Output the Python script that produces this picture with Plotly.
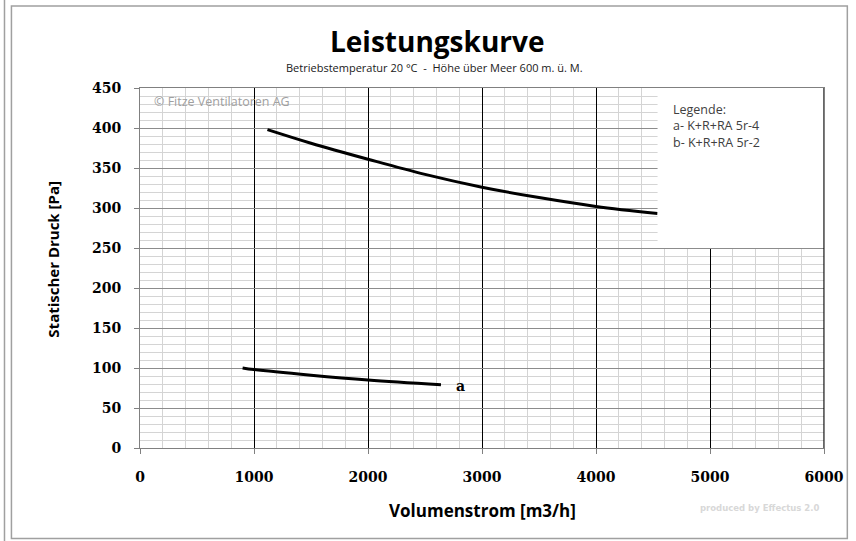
import plotly.graph_objects as go

# Data
curve_b_x = [1118, 1500, 2000, 2500, 3000, 3500, 4000, 4540]
curve_b_y = [398, 381, 361, 342, 326, 313, 302, 293]
curve_a_x = [900, 1000, 1500, 2000, 2640]
curve_a_y = [100, 98, 91, 85, 79]
x_ticks = [0, 1000, 2000, 3000, 4000, 5000, 6000]
y_ticks = [0, 50, 100, 150, 200, 250, 300, 350, 400, 450]

W, H = 856, 541
L, R, T, B = 140, 27, 88, 93
PW, PH = W - L - R, H - T - B

def px(x):
    return (x - L) / PW

def py(y):
    return (H - B - y) / PH

fig = go.Figure()
fig.add_trace(go.Scatter(x=curve_b_x, y=curve_b_y, mode="lines",
                         line=dict(color="black", width=3, shape="spline"),
                         showlegend=False, hoverinfo="skip"))
fig.add_trace(go.Scatter(x=curve_a_x, y=curve_a_y, mode="lines",
                         line=dict(color="black", width=3, shape="spline"),
                         showlegend=False, hoverinfo="skip"))

tickfont = dict(family="DejaVu Serif", size=14, color="black", weight="bold")

fig.update_layout(
    width=W, height=H,
    margin=dict(l=L, r=R, t=T, b=B),
    paper_bgcolor="white", plot_bgcolor="white",
    xaxis=dict(range=[0, 6000], tickvals=x_ticks, ticks="outside", ticklen=5,
               tickcolor="#808080", showline=True, linecolor="#808080", mirror=True,
               showgrid=True, gridcolor="black", gridwidth=1,
               minor=dict(dtick=200, showgrid=True, gridcolor="#d4d4d4", gridwidth=1),
               tickfont=tickfont, ticklabelstandoff=11, zeroline=False, fixedrange=True),
    yaxis=dict(range=[0, 450], tickvals=y_ticks, ticks="outside", ticklen=5,
               tickcolor="#808080", showline=True, linecolor="#808080", mirror=True,
               showgrid=True, gridcolor="#8c8c8c", gridwidth=1,
               minor=dict(dtick=10, showgrid=True, gridcolor="#d4d4d4", gridwidth=1),
               tickfont=tickfont, ticklabelstandoff=10, zeroline=False, fixedrange=True),
)

shapes = [
    dict(type="rect", xref="x", yref="y", x0=4540, x1=6000, y0=250, y1=450,
         fillcolor="white", line=dict(width=0), layer="above"),
    dict(type="line", xref="x", yref="y", x0=6000, x1=6000, y0=0, y1=450,
         line=dict(color="black", width=1.2), layer="above"),
    dict(type="line", xref="paper", yref="paper", x0=px(3.5), x1=px(3.5), y0=py(0), y1=py(H),
         line=dict(color="#a0a0a0", width=1.5)),
    dict(type="rect", xref="paper", yref="paper", x0=px(10.5), x1=px(852.5), y0=py(6), y1=py(538.5),
         line=dict(color="#a0a0a0", width=1.5), fillcolor="rgba(0,0,0,0)"),
]
fig.update_layout(shapes=shapes)

ann = []
ann.append(dict(text="<b>Leistungskurve</b>", x=px(439), y=py(41), xref="paper", yref="paper",
                showarrow=False, font=dict(family="Open Sans", size=28, color="black"),
                xanchor="center", yanchor="middle"))
ann.append(dict(text="Betriebstemperatur 20 °C  -  Höhe über Meer 600 m. ü. M.",
                x=px(437), y=py(67), xref="paper", yref="paper", showarrow=False,
                font=dict(family="Open Sans", size=11, color="#202020"),
                xanchor="center", yanchor="middle"))
ann.append(dict(text="<b>Statischer Druck [Pa]</b>", x=px(52), y=py(259), xref="paper", yref="paper",
                showarrow=False, textangle=-90, font=dict(family="Open Sans", size=15, color="black"),
                xanchor="center", yanchor="middle"))
ann.append(dict(text="<b>Volumenstrom [m3/h]</b>", x=px(485), y=py(510), xref="paper", yref="paper",
                showarrow=False, font=dict(family="Open Sans", size=17, color="black"),
                xanchor="center", yanchor="middle"))
ann.append(dict(text="© Fitze Ventilatoren AG", x=px(152), y=py(102), xref="paper", yref="paper",
                showarrow=False, font=dict(family="Open Sans", size=12.5, color="#a0a0a0"),
                xanchor="left", yanchor="middle"))
ann.append(dict(text="<b>produced by Effectus 2.0</b>", x=px(764), y=py(508), xref="paper", yref="paper",
                showarrow=False, font=dict(family="DejaVu Sans", size=8.5, color="#d8d8d8"),
                xanchor="center", yanchor="middle"))
ann.append(dict(text="Legende:<br>a- K+R+RA 5r-4<br>b- K+R+RA 5r-2", x=px(675), y=py(99),
                xref="paper", yref="paper", showarrow=False, align="left",
                font=dict(family="Open Sans", size=12.5, color="#404040"),
                xanchor="left", yanchor="top"))
ann.append(dict(text="<b>a</b>", x=2810, y=77, xref="x", yref="y", showarrow=False,
                font=dict(family="DejaVu Serif", size=14, color="black"),
                xanchor="center", yanchor="middle"))
fig.update_layout(annotations=ann)

fig.write_html("out.html", config={"displayModeBar": False},
               post_script="document.body.style.margin='0';")
